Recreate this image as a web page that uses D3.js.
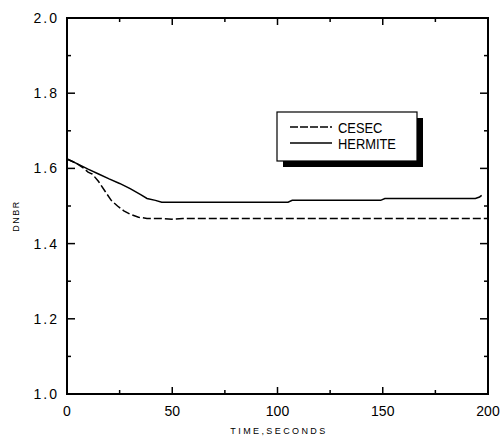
<!DOCTYPE html>
<html>
<head>
<meta charset="utf-8">
<script src="https://cdn.jsdelivr.net/npm/d3@7"></script>
<style>
  body { margin: 0; background: #fff; }
  text { font-family: "Liberation Sans", Arial, sans-serif; fill: #000; }
</style>
</head>
<body>
<div id="chart"></div>
<script>
// data
const hermiteTime = [0, 5, 10, 15, 20, 25, 30, 35, 38, 42, 45, 60, 80, 105, 107, 130, 149, 151, 170, 194, 196, 197];
const hermiteDnbr = [1.625, 1.612, 1.598, 1.585, 1.572, 1.560, 1.546, 1.530, 1.520, 1.515, 1.510, 1.510, 1.510, 1.510, 1.515, 1.515, 1.515, 1.520, 1.520, 1.520, 1.524, 1.528];
const cesecTime = [0, 4, 8, 10, 12, 15, 18, 21, 24, 27, 30, 34, 38, 45, 50, 55, 70, 100, 150, 200];
const cesecDnbr = [1.625, 1.615, 1.600, 1.590, 1.585, 1.565, 1.540, 1.515, 1.500, 1.487, 1.478, 1.470, 1.467, 1.467, 1.465, 1.467, 1.467, 1.467, 1.467, 1.467];
const xTicks = [0, 50, 100, 150, 200];
const yTicks = [1.0, 1.2, 1.4, 1.6, 1.8, 2.0];

const W = 503, H = 442;
const margin = {left: 67, right: 15, top: 18, bottom: 48};
const w = W - margin.left - margin.right;
const h = H - margin.top - margin.bottom;

const svg = d3.select("#chart").append("svg")
  .attr("width", W)
  .attr("height", H);

const g = svg.append("g").attr("transform", `translate(${margin.left},${margin.top})`);

const x = d3.scaleLinear().domain([0, 200]).range([0, w]);
const y = d3.scaleLinear().domain([1.0, 2.0]).range([h, 0]);

// frame
g.append("rect")
  .attr("width", w).attr("height", h)
  .attr("fill", "none").attr("stroke", "#000").attr("stroke-width", 2);

// ticks, inward on all four sides
const xMinor = d3.range(25, 200, 50);
const yMinor = d3.range(1.1, 2.0, 0.2);
function xTick(v, len) {
  g.append("line").attr("x1", x(v)).attr("x2", x(v)).attr("y1", h).attr("y2", h - len)
    .attr("stroke", "#000").attr("stroke-width", 1.5);
  g.append("line").attr("x1", x(v)).attr("x2", x(v)).attr("y1", 0).attr("y2", len)
    .attr("stroke", "#000").attr("stroke-width", 1.5);
}
function yTick(v, len) {
  g.append("line").attr("x1", 0).attr("x2", len).attr("y1", y(v)).attr("y2", y(v))
    .attr("stroke", "#000").attr("stroke-width", 1.5);
  g.append("line").attr("x1", w).attr("x2", w - len).attr("y1", y(v)).attr("y2", y(v))
    .attr("stroke", "#000").attr("stroke-width", 1.5);
}
xTicks.forEach(v => xTick(v, 7));
xMinor.forEach(v => xTick(v, 4));
yTicks.forEach(v => yTick(v, 8));
yMinor.forEach(v => yTick(v, 4));

// tick labels
g.selectAll(".xl").data(xTicks).join("text")
  .attr("x", d => x(d)).attr("y", h + 22)
  .attr("text-anchor", "middle")
  .style("font-size", "14px")
  .text(d => d);

g.selectAll(".yl").data(yTicks).join("text")
  .attr("x", -8).attr("y", d => y(d) + 5)
  .attr("text-anchor", "end")
  .style("font-size", "14px")
  .style("letter-spacing", "2px")
  .text(d => d.toFixed(1));

// axis titles
svg.append("text")
  .attr("x", 279).attr("y", 434)
  .attr("text-anchor", "middle")
  .style("font-size", "9px")
  .style("letter-spacing", "2.4px")
  .text("TIME,SECONDS");

svg.append("text")
  .attr("transform", "translate(19,216) rotate(-90)")
  .attr("text-anchor", "middle")
  .style("font-size", "9px")
  .style("letter-spacing", "1.5px")
  .text("DNBR");

// curves
const line = d3.line().x(d => x(d[0])).y(d => y(d[1]));
const hermite = hermiteTime.map((t, i) => [t, hermiteDnbr[i]]);
const cesec = cesecTime.map((t, i) => [t, cesecDnbr[i]]);

g.append("path").datum(hermite)
  .attr("d", line).attr("fill", "none")
  .attr("stroke", "#000").attr("stroke-width", 1.5);

g.append("path").datum(cesec)
  .attr("d", line).attr("fill", "none")
  .attr("stroke", "#000").attr("stroke-width", 1.5)
  .attr("stroke-dasharray", "8,3");

// legend with drop shadow
const lg = svg.append("g").attr("transform", "translate(277,112)");
lg.append("rect").attr("x", 6).attr("y", 6).attr("width", 140).attr("height", 49).attr("fill", "#000");
lg.append("rect").attr("width", 140).attr("height", 49)
  .attr("fill", "#fff").attr("stroke", "#000").attr("stroke-width", 1.2);
lg.append("line").attr("x1", 13).attr("x2", 55).attr("y1", 15).attr("y2", 15)
  .attr("stroke", "#000").attr("stroke-width", 1.5).attr("stroke-dasharray", "8,2");
lg.append("line").attr("x1", 13).attr("x2", 55).attr("y1", 31).attr("y2", 31)
  .attr("stroke", "#000").attr("stroke-width", 1.5);
lg.append("text").attr("transform", "translate(61,20.5) scale(0.86,1)")
  .style("font-size", "15px").text("CESEC");
lg.append("text").attr("transform", "translate(61,36.5) scale(0.86,1)")
  .style("font-size", "15px").text("HERMITE");
</script>
</body>
</html>
